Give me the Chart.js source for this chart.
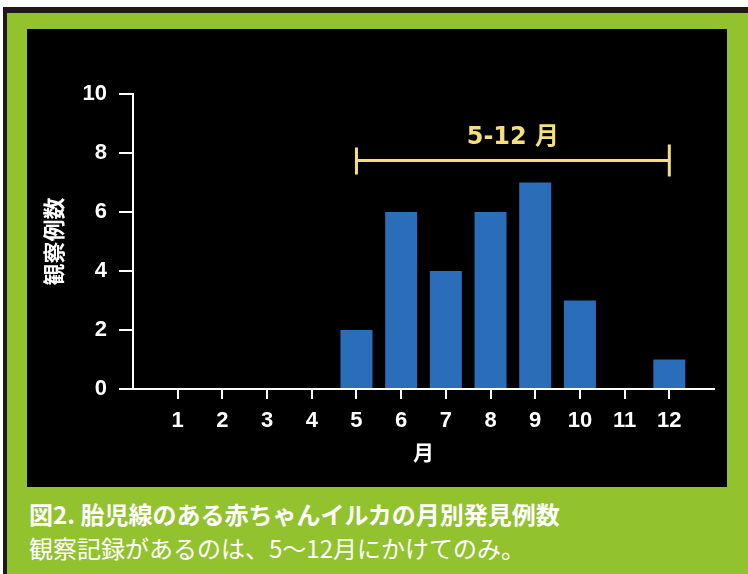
<!DOCTYPE html>
<html>
<head>
<meta charset="utf-8">
<script src="https://cdn.jsdelivr.net/npm/chart.js@4"></script>
<style>
  html, body { margin: 0; padding: 0; background: #fff; width: 748px; height: 574px; overflow: hidden; }
  #frame {
    position: absolute; left: 3px; top: 7px; right: 0; bottom: 0;
    border-top: 6px solid #231815; border-left: 4px solid #231815;
    background: #92c22e;
  }
  #panel { position: absolute; left: 27px; top: 29px; width: 700px; height: 458px; background: #000; }
  .cap { position: absolute; left: 29px; color: #fff; font-family: "Noto Sans CJK JP", sans-serif; white-space: nowrap; }
  #cap1 { top: 499px; font-size: 24px; line-height: 30px; font-weight: bold; }
  #cap2 { top: 533px; font-size: 24px; line-height: 30px; font-weight: normal; }
</style>
</head>
<body>
<div id="frame"></div>
<div id="panel"><canvas id="chart" width="700" height="458"></canvas></div>
<div class="cap" id="cap1">図2. 胎児線のある赤ちゃんイルカの月別発見例数</div>
<div class="cap" id="cap2">観察記録があるのは、5〜12月にかけてのみ。</div>
<script>
// months on the x axis and sighting counts per month
const months = [1, 2, 3, 4, 5, 6, 7, 8, 9, 10, 11, 12];
const counts = [0, 0, 0, 0, 2, 6, 4, 6, 7, 3, 0, 1];
const yTicks = [0, 2, 4, 6, 8, 10];

// the yellow range marker above the bars
const rangeStart = 5;
const rangeEnd = 12;
const rangeLevel = 7.75;
const rangeLabel = '5-12 月';

const tickFont = { family: "'Liberation Sans', Arial, sans-serif", size: 22, weight: 'bold' };

const rangeMarker = {
    id: 'rangeMarker',
    afterDatasetsDraw(chart) {
        const { ctx, scales: { x, y } } = chart;
        const x0 = x.getPixelForValue(rangeStart);
        const x1 = x.getPixelForValue(rangeEnd);
        const py = y.getPixelForValue(rangeLevel);
        ctx.save();
        ctx.strokeStyle = '#f3df7e';
        ctx.lineWidth = 3;
        ctx.beginPath();
        ctx.moveTo(x0, py); ctx.lineTo(x1, py);
        ctx.moveTo(x0, py - 13); ctx.lineTo(x0, py + 14);
        ctx.moveTo(x1, py - 16); ctx.lineTo(x1, py + 16);
        ctx.stroke();
        ctx.fillStyle = '#f3df7e';
        ctx.font = "bold 24px 'DejaVu Sans', 'Noto Sans CJK JP', sans-serif";
        ctx.textAlign = 'center';
        ctx.textBaseline = 'middle';
        ctx.fillText(rangeLabel, (x0 + x1) / 2, py - 23);
        ctx.restore();
    }
};

new Chart(document.getElementById('chart'), {
    type: 'bar',
    data: {
        datasets: [{
            data: months.map((m, i) => ({ x: m, y: counts[i] })),
            backgroundColor: '#2a6db8',
            borderWidth: 0,
            inflateAmount: 0,
            barThickness: 32
        }]
    },
    options: {
        responsive: false,
        animation: false,
        layout: { padding: { left: 0, top: 65, right: 13, bottom: 0 } },
        plugins: { legend: { display: false }, tooltip: { enabled: false } },
        scales: {
            x: {
                type: 'linear',
                min: 0,
                max: 13,
                offset: false,
                z: 1,
                afterBuildTicks: s => { s.ticks = months.map(v => ({ value: v })); },
                afterFit: s => { s.height = 98; },
                border: { display: true, color: '#fff', width: 2 },
                grid: { offset: false, drawOnChartArea: false, drawTicks: true, tickLength: 10, color: '#fff', lineWidth: 2 },
                ticks: { color: '#fff', font: tickFont, padding: 9, maxRotation: 0, autoSkip: false },
                title: { display: true, text: '月', color: '#fff', font: { family: "'Noto Sans CJK JP', sans-serif", size: 21, weight: 'bold' }, padding: { top: 0, bottom: 22 } }
            },
            y: {
                min: 0,
                max: 10,
                z: 1,
                afterBuildTicks: s => { s.ticks = yTicks.map(v => ({ value: v })); },
                afterFit: s => { s.width = 106; },
                border: { display: true, color: '#fff', width: 2 },
                grid: { drawOnChartArea: false, drawTicks: true, tickLength: 14, color: '#fff', lineWidth: 2 },
                ticks: { color: '#fff', font: tickFont, padding: 12 },
                title: { display: true, text: '観察例数', color: '#fff', font: { family: "'Noto Sans CJK JP', sans-serif", size: 22, weight: 'bold' }, padding: { top: 13, bottom: 0 } }
            }
        }
    },
    plugins: [rangeMarker]
});
</script>
</body>
</html>
